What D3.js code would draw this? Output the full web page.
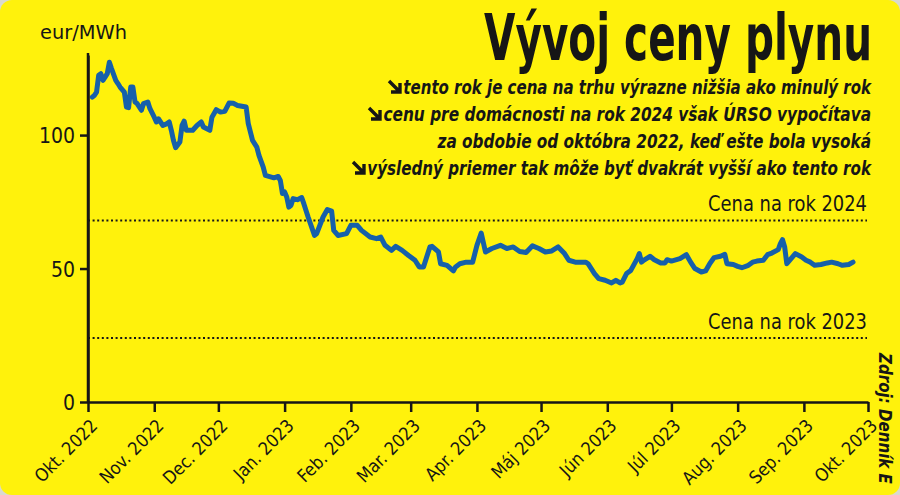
<!DOCTYPE html>
<html><head><meta charset="utf-8">
<script src="https://cdn.jsdelivr.net/npm/d3@7"></script>
<style>
html,body{margin:0;padding:0;background:#d9d9cf;}
svg{display:block;}
</style></head>
<body>
<svg id="c" width="900" height="495"></svg>
<script>
// ---- data ----
const dates = ["2022-10-03","2022-10-04","2022-10-05","2022-10-06","2022-10-07","2022-10-08","2022-10-09","2022-10-10","2022-10-11","2022-10-12","2022-10-14","2022-10-15","2022-10-16","2022-10-18","2022-10-19","2022-10-20","2022-10-21","2022-10-22","2022-10-23","2022-10-24","2022-10-26","2022-10-27","2022-10-29","2022-10-30",
"2022-11-01","2022-11-02","2022-11-03","2022-11-05","2022-11-07","2022-11-08","2022-11-09","2022-11-10","2022-11-11","2022-11-13","2022-11-14","2022-11-15","2022-11-16","2022-11-19","2022-11-21","2022-11-23","2022-11-24","2022-11-27","2022-11-28","2022-11-30",
"2022-12-02","2022-12-04","2022-12-06","2022-12-08","2022-12-10","2022-12-14","2022-12-15","2022-12-17","2022-12-19","2022-12-20","2022-12-22","2022-12-23","2022-12-27","2022-12-29","2022-12-30","2022-12-31",
"2023-01-01","2023-01-02","2023-01-03","2023-01-04","2023-01-05","2023-01-07","2023-01-09","2023-01-10","2023-01-12","2023-01-15","2023-01-16","2023-01-19","2023-01-21","2023-01-23","2023-01-24","2023-01-26","2023-01-30",
"2023-02-01","2023-02-04","2023-02-06","2023-02-10","2023-02-13","2023-02-15","2023-02-17","2023-02-20","2023-02-22","2023-02-25","2023-02-28",
"2023-03-03","2023-03-05","2023-03-07","2023-03-10","2023-03-11","2023-03-14","2023-03-15","2023-03-18","2023-03-21","2023-03-22","2023-03-24","2023-03-27","2023-03-30",
"2023-04-01","2023-04-03","2023-04-05","2023-04-08","2023-04-12","2023-04-15","2023-04-18","2023-04-21","2023-04-24","2023-04-27","2023-04-30",
"2023-05-03","2023-05-06","2023-05-09","2023-05-12","2023-05-14","2023-05-17","2023-05-22","2023-05-23","2023-05-26","2023-05-28","2023-05-31",
"2023-06-03","2023-06-05","2023-06-07","2023-06-08","2023-06-10","2023-06-12","2023-06-15","2023-06-16","2023-06-17","2023-06-18","2023-06-21","2023-06-23","2023-06-26","2023-06-28","2023-06-29",
"2023-07-01","2023-07-05","2023-07-08","2023-07-10","2023-07-12","2023-07-15","2023-07-17","2023-07-19","2023-07-21","2023-07-24","2023-07-26","2023-07-27","2023-07-30",
"2023-08-01","2023-08-03","2023-08-06","2023-08-08","2023-08-10","2023-08-13","2023-08-15","2023-08-17","2023-08-20","2023-08-21","2023-08-22","2023-08-23","2023-08-24","2023-08-26","2023-08-28","2023-08-31",
"2023-09-02","2023-09-04","2023-09-06","2023-09-09","2023-09-12","2023-09-14","2023-09-17","2023-09-19","2023-09-22","2023-09-24"];
const prices = [114.2,114.9,116.1,122.4,123.0,120.5,121.7,123.0,127.3,124.9,120.5,119.3,118.0,116.1,110.5,110.3,118.0,118.0,112.4,111.8,109.3,111.8,112.4,109.9,
106.7,104.9,106.1,103.6,104.3,104.9,101.8,98.0,95.3,97.4,103.6,105.2,101.8,101.8,103.6,104.9,103.0,101.8,106.7,109.5,
108.6,108.9,112.0,111.9,111.1,110.5,104.3,98.0,95.5,92.4,88.0,84.9,84.0,84.5,83.0,78.1,
78.7,76.8,73.0,73.7,76.2,75.8,76.6,74.3,69.3,62.4,63.1,69.3,72.1,71.5,64.3,62.4,63.1,
66.2,66.2,64.3,61.8,61.2,61.8,58.7,56.8,58.3,56.8,54.9,
53.1,50.6,50.6,58.1,58.3,56.2,51.8,51.2,49.1,50.6,51.8,52.4,52.4,
58.7,63.3,56.2,57.5,58.7,57.5,58.1,56.4,56.0,58.5,57.5,
56.2,56.6,58.1,55.6,53.1,52.4,52.4,51.8,48.1,46.2,45.6,
44.6,45.6,44.6,44.9,48.1,49.3,53.7,55.6,52.4,53.1,54.6,53.3,52.1,52.1,53.3,
52.8,53.7,55.2,52.4,50.0,48.7,49.1,51.9,54.1,54.6,55.3,51.8,51.5,
50.8,50.3,51.2,52.4,52.8,53.1,55.2,55.8,57.1,59.3,60.8,58.1,51.8,53.7,55.6,54.3,
53.1,52.4,51.2,51.5,52.1,52.4,51.8,51.2,51.5,52.4];
const monthTicks = ["2022-10-01","2022-11-01","2022-12-01","2023-01-01","2023-02-01","2023-03-01","2023-04-01","2023-05-01","2023-06-01","2023-07-01","2023-08-01","2023-09-01","2023-10-01"];
const monthLabels = ["Okt. 2022","Nov. 2022","Dec. 2022","Jan. 2023","Feb. 2023","Mar. 2023","Apr. 2023","Máj 2023","Jún 2023","Júl 2023","Aug. 2023","Sep. 2023","Okt. 2023"];
const yTicks = [0,50,100];
const refLines = [68, 24];
const refLabels = ["Cena na rok 2024","Cena na rok 2023"];
const title = "Vývoj ceny plynu";
const notes = ["tento rok je cena na trhu výrazne nižšia ako minulý rok",
"cenu pre domácnosti na rok 2024 však ÚRSO vypočítava",
"za obdobie od októbra 2022, keď ešte bola vysoká",
"výsledný priemer tak môže byť dvakrát vyšší ako tento rok"];
const noteArrow = [true,true,false,true];
const unit = "eur/MWh";
const source = "Zdroj: Denník E";

// ---- drawing ----
const parse = d3.timeParse("%Y-%m-%d");
const data = dates.map((d,i)=>({date:parse(d), v:prices[i]}));
const svg = d3.select("#c");
const W = 900, H = 495;
const FONT = "'DejaVu Sans Condensed','Liberation Sans Narrow','DejaVu Sans',sans-serif";
const INK = "#161616";

// helper: place text and squeeze horizontally to a target width via transform
function fitText(sel, tx, ty, target, rot){
  const w = sel.node().getComputedTextLength();
  const s = Math.min(1.15, target / w);
  sel.attr("x",0).attr("y",0)
     .attr("transform", `translate(${tx},${ty})${rot?` rotate(${rot})`:""} scale(${s},1)`);
  return sel;
}

svg.append("rect").attr("x",0).attr("y",0).attr("width",W).attr("height",H)
  .attr("rx",12).attr("fill","#fff20c");

const x = d3.scaleTime().domain([parse(monthTicks[0]), parse(monthTicks[monthTicks.length-1])]).range([88,868]);
const y = d3.scaleLinear().domain([0,130]).range([402,55]);

// reference lines
refLines.forEach((v,i)=>{
  svg.append("line").attr("x1",88).attr("x2",867).attr("y1",y(v)).attr("y2",y(v))
    .attr("stroke",INK).attr("stroke-width",2).attr("stroke-dasharray","2,2.6");
  const t = svg.append("text").attr("text-anchor","end")
    .attr("font-family",FONT).attr("font-size",22).attr("fill",INK).text(refLabels[i]);
  fitText(t, 867, y(v)-9, 159);
});

// line
svg.append("path").datum(data)
  .attr("d", d3.line().x(d=>x(d.date)).y(d=>y(d.v)))
  .attr("fill","none").attr("stroke","#1660aa").attr("stroke-width",5)
  .attr("stroke-linejoin","round").attr("stroke-linecap","round");

// y axis
const yAxis = svg.append("g").attr("transform","translate(88,0)")
  .call(d3.axisLeft(y).tickValues(yTicks).tickSize(8).tickSizeOuter(0).tickPadding(5));
yAxis.select(".domain").attr("stroke",INK).attr("stroke-width",2.5);
yAxis.selectAll(".tick line").attr("stroke",INK).attr("stroke-width",2.5);
yAxis.selectAll(".tick text").attr("font-family",FONT).attr("font-size",21).attr("fill",INK).attr("dy","0.36em");
svg.append("line").attr("x1",88).attr("x2",88).attr("y1",53).attr("y2",402).attr("stroke",INK).attr("stroke-width",2.5);

// x axis
const xAxis = svg.append("g").attr("transform","translate(0,402)")
  .call(d3.axisBottom(x).tickValues(monthTicks.map(parse)).tickSize(10).tickSizeOuter(0)
    .tickFormat((d,i)=>monthLabels[i]));
xAxis.select(".domain").attr("stroke",INK).attr("stroke-width",2.5);
xAxis.selectAll(".tick line").attr("stroke",INK).attr("stroke-width",2.5);
xAxis.selectAll(".tick text").attr("font-family",FONT).attr("font-size",18).attr("fill",INK)
  .attr("text-anchor","end").attr("y",0).attr("dy",0)
  .attr("transform","translate(10,25) rotate(-45)");

// unit
const u = svg.append("text").attr("font-family",FONT).attr("font-size",20).attr("fill",INK).text(unit);
fitText(u, 40, 39, 87);

// title
const tt = svg.append("text").attr("text-anchor","end")
  .attr("font-family",FONT).attr("font-weight","bold").attr("font-size",64).attr("fill",INK).text(title);
fitText(tt, 872, 60, 388);

// notes
const noteBase = [94,121,148,175];
const noteStart = [403,383,437,367];
notes.forEach((t,i)=>{
  const n = svg.append("text").attr("text-anchor","end")
    .attr("font-family",FONT).attr("font-weight","bold").attr("font-style","italic")
    .attr("font-size",19).attr("fill",INK).text(t);
  fitText(n, 871, noteBase[i], 871-noteStart[i]);
  if(noteArrow[i]){
    const ax = noteStart[i]-14, ay = noteBase[i]-13;
    svg.append("path")
      .attr("d",`M${ax},${ay} L${ax+10},${ay+10} M${ax+11},${ay+2} L${ax+11},${ay+11} L${ax+2},${ay+11}`)
      .attr("fill","none").attr("stroke",INK).attr("stroke-width",3.4);
  }
});

// source
const src = svg.append("text")
  .attr("font-family",FONT).attr("font-weight","bold").attr("font-style","italic")
  .attr("font-size",17).attr("fill",INK).text(source);
fitText(src, 879, 353, 131, 90);
</script>
</body></html>
